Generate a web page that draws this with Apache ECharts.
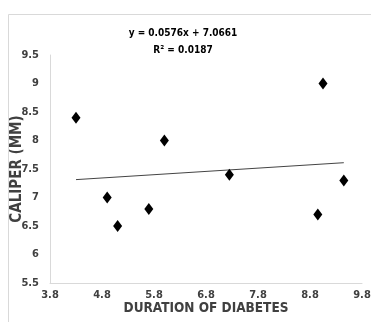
<!DOCTYPE html>
<html>
<head>
<meta charset="utf-8">
<script src="https://cdn.jsdelivr.net/npm/echarts@6/dist/echarts.min.js"></script>
<style>html,body{margin:0;padding:0;background:#fff}#c{width:371px;height:322px}</style>
</head>
<body>
<div id="c"></div>
<script>
var durations = [4.3, 4.9, 5.1, 5.7, 6.0, 7.25, 8.95, 9.05, 9.45];
var calipers = [8.4, 7.0, 6.5, 6.8, 8.0, 7.4, 6.7, 9.0, 7.3];
var slope = 0.0576, intercept = 7.0661;
var trendX = [4.3, 9.45];
var xTicks = [3.8, 4.8, 5.8, 6.8, 7.8, 8.8, 9.8];
var equationText = 'y = 0.0576x + 7.0661';
var r2Text = 'R² = 0.0187';

var FONT = "'DejaVu Sans Condensed', 'Liberation Sans Narrow', sans-serif";
var pts = durations.map(function (d, i) { return [d, calipers[i]]; });
var trend = trendX.map(function (x) { return [x, slope * x + intercept]; });

var chart = echarts.init(document.getElementById('c'), null, {renderer: 'canvas'});
chart.setOption({
  animation: false,
  backgroundColor: '#fff',
  graphic: [{
    type: 'rect', shape: {x: 8.5, y: 14.5, width: 400, height: 400},
    style: {fill: 'none', stroke: '#d9d9d9', lineWidth: 1}, silent: true
  }],
  title: [
    {text: equationText, left: 178, top: 23, textAlign: 'center',
     textStyle: {fontFamily: FONT, fontSize: 10, fontWeight: 'bold', color: '#000'}},
    {text: r2Text, left: 178, top: 40, textAlign: 'center',
     textStyle: {fontFamily: FONT, fontSize: 10, fontWeight: 'bold', color: '#000'}}
  ],
  grid: {left: 50, right: 9, top: 55, bottom: 39, containLabel: false, outerBoundsMode: 'none'},
  xAxis: {
    type: 'value', min: 3.8, max: 9.8,
    name: 'DURATION OF DIABETES', nameLocation: 'middle', nameGap: 18, nameMoveOverlap: false,
    nameTextStyle: {fontFamily: FONT, fontSize: 13.5, fontWeight: 'bold', color: '#404040', verticalAlign: 'top'},
    axisLine: {show: true, lineStyle: {color: '#d9d9d9', width: 1}},
    axisTick: {show: false},
    splitLine: {show: false},
    axisLabel: {customValues: xTicks, fontFamily: FONT, fontSize: 11, fontWeight: 'bold', color: '#404040', margin: 7,
      formatter: function (v) { return v.toFixed(1); }}
  },
  yAxis: {
    type: 'value', min: 5.5, max: 9.5, interval: 0.5,
    name: 'CALIPER (MM)', nameLocation: 'middle', nameGap: 25, nameRotate: 90, nameMoveOverlap: false,
    nameTextStyle: {fontFamily: FONT, fontSize: 15, fontWeight: 'bold', color: '#404040'},
    axisLine: {show: true, lineStyle: {color: '#d9d9d9', width: 1}},
    axisTick: {show: false},
    splitLine: {show: false},
    axisLabel: {fontFamily: FONT, fontSize: 11, fontWeight: 'bold', color: '#404040', margin: 11,
      formatter: function (v) { return String(v); }}
  },
  series: [
    {type: 'line', data: trend, symbol: 'none', lineStyle: {color: '#444', width: 1}, silent: true, z: 1},
    {type: 'scatter', data: pts, symbol: 'diamond', symbolSize: [9, 12], itemStyle: {color: '#000', opacity: 1}, z: 2}
  ]
});
</script>
</body>
</html>
